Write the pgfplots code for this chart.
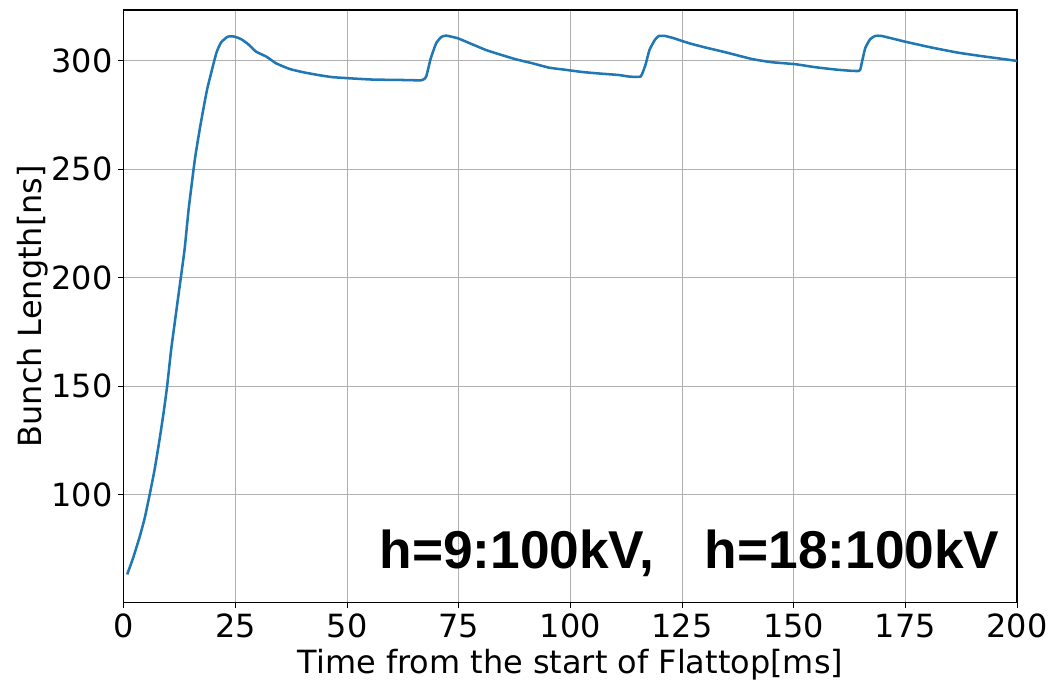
\documentclass[border=0pt]{standalone}
\usepackage{fontspec}
\setmainfont{DejaVu Sans}
\newfontfamily\annotfont{Liberation Sans}
\usepackage{pgfplots}
\pgfplotsset{compat=1.18}
\definecolor{mplblue}{HTML}{1F77B4}
\definecolor{gridgray}{HTML}{B0B0B0}
\begin{document}
\begin{tikzpicture}
\begin{axis}[
  scale only axis,
  width=671pt, height=445pt,
  xmin=0, xmax=200, ymin=50.2, ymax=323.5,
  xtick={0,25,50,75,100,125,150,175,200},
  ytick={100,150,200,250,300},
  xtick pos=bottom, ytick pos=left,
  /pgf/number format/assume math mode=true,
  tick label style={font=\fontsize{24}{28}\selectfont, black},
  label style={font=\fontsize{24}{28}\selectfont},
  xlabel={Time from the start of Flattop[ms]},
  ylabel={Bunch Length[ns]},
  xlabel style={yshift=-2pt},
  ylabel style={yshift=-4pt},
  grid=major,
  major grid style={gridgray, line width=0.8pt},
  tick align=outside,
  major tick length=4pt,
  tick style={black, line width=0.8pt},
  axis line style={black, line width=0.9pt},
  xticklabel style={yshift=-1pt},
  yticklabel style={xshift=-1pt},
]
\addplot[mplblue, line width=1.9pt, smooth, tension=0.3] coordinates {
(0.75,63.1) (2.1,70.8) (3.6,80.8) (4.7,89.3) (5.8,100) (6.9,111.5) (8.0,125.3)
(8.9,137.6) (9.7,149.9) (10.6,166.8) (11.4,179.1) (12.1,189.9) (13.6,212.9)
(14.5,231.3) (15.9,254.4) (17.0,268.5) (18.1,281.0) (18.8,288.2) (20.7,303.5)
(21.8,308.6) (23.3,311.2) (24.8,311.2) (26.3,310.0) (27.8,307.8) (29.6,304.3)
(31.9,302.0) (34.1,298.9) (37.1,296.3) (40.1,294.8) (43.8,293.4) (46.8,292.5)
(51.2,291.9) (55.7,291.4) (62.4,291.2) (66.7,291.1) (67.7,292.8) (68.7,301.0)
(69.9,308.0) (71.0,310.9) (72.1,311.7) (74.7,310.5) (76.6,308.9) (81.0,305.1)
(84.0,303.1) (87.7,300.8) (91.5,298.9) (95.2,296.9) (98.9,295.9) (102.6,294.9)
(106.4,294.2) (110.8,293.5) (113.1,292.8) (115.7,292.8) (116.8,298.2)
(117.7,305.1) (118.9,309.7) (119.8,311.5) (121.2,311.5) (123.1,310.5)
(126.5,308.2) (130.2,306.2) (134.7,304.0) (140.6,300.9) (145.1,299.4)
(150.3,298.5) (154.8,297.1) (160.0,295.9) (164.6,295.4) (165.2,298.9)
(166.0,305.9) (167.1,310.0) (168.2,311.5) (169.7,311.5) (174.9,308.9)
(180.8,306.2) (186.8,303.8) (192.8,302.0) (197.2,300.8) (200,300.0)
};
\node[anchor=base west, inner sep=0pt, font=\annotfont\bfseries\fontsize{40}{44}\selectfont]
  at (axis cs:57.2,65.9) {h=9:100kV,\hspace{0.95em}h=18:100kV};
\end{axis}
\path ([shift={(-93pt,-54.75pt)}]current axis.south west) rectangle ([shift={(24.75pt,7.5pt)}]current axis.north east);
\end{tikzpicture}
\end{document}
